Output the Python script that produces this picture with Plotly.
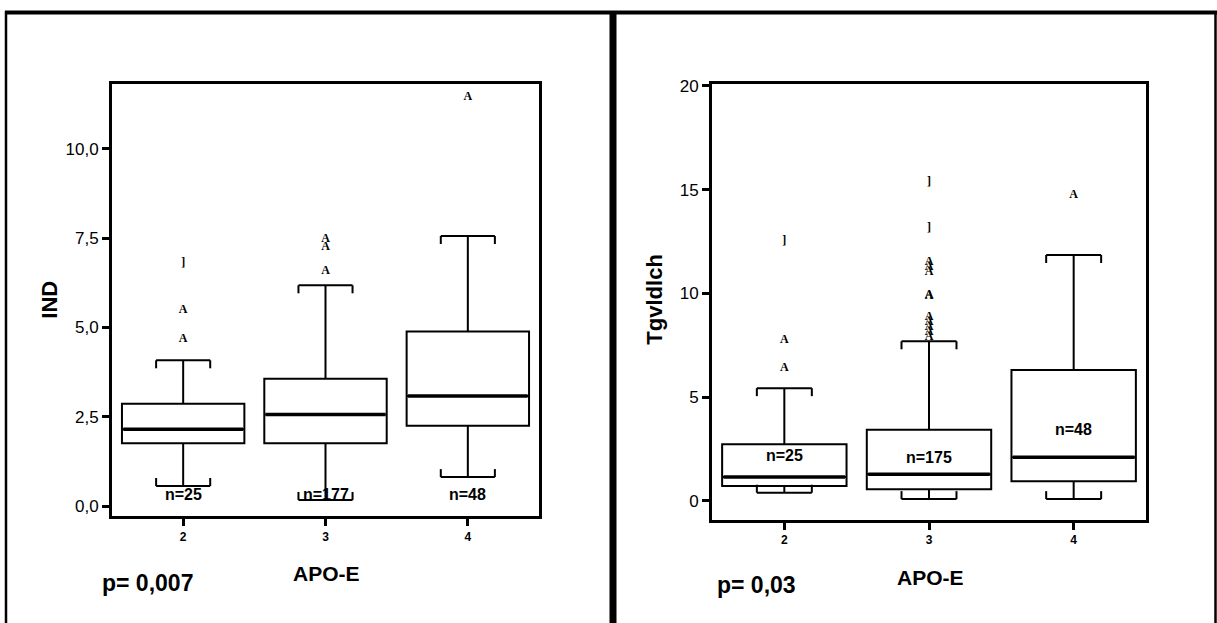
import plotly.graph_objects as go

W, H = 1217, 623

# ---------------- data ----------------
groups = [2, 3, 4]
group_labels = ["2", "3", "4"]

# Left panel: IND
ind_q1 = [1.76, 1.76, 2.25]
ind_median = [2.15, 2.56, 3.08]
ind_q3 = [2.86, 3.56, 4.89]
ind_low = [0.56, 0.17, 0.81]
ind_high = [4.08, 6.18, 7.56]
ind_n = ["n=25", "n=177", "n=48"]
ind_n_y = [0.33, 0.31, 0.32]
ind_out_x = [2, 2, 2, 3, 3, 3, 4]
ind_out_y = [6.80, 5.50, 4.69, 7.48, 7.26, 6.58, 11.44]
ind_out_sym = ["]", "A", "A", "A", "A", "A", "A"]
ind_ticks = [0, 2.5, 5, 7.5, 10]
ind_ticktext = ["0,0", "2,5", "5,0", "7,5", "10,0"]

# Right panel: Tgvldlch
tg_q1 = [0.71, 0.55, 0.94]
tg_median = [1.15, 1.28, 2.10]
tg_q3 = [2.72, 3.42, 6.30]
tg_low = [0.39, 0.08, 0.08]
tg_high = [5.43, 7.69, 11.85]
tg_n = ["n=25", "n=175", "n=48"]
tg_n_y = [2.19, 2.09, 3.44]
tg_out_x = [2, 2, 2, 3, 3, 3, 3, 3, 3, 3, 3, 3, 3, 3, 3, 4]
tg_out_y = [12.53, 7.73, 6.41, 15.39, 13.14, 11.53, 11.29, 11.05, 9.93, 9.85,
            8.88, 8.64, 8.40, 8.16, 7.92, 14.74]
tg_out_sym = ["]", "A", "A", "]", "]", "A", "A", "A", "A", "A",
              "A", "A", "A", "A", "A", "A"]
tg_ticks = [0, 5, 10, 15, 20]
tg_ticktext = ["0", "5", "10", "15", "20"]

# ---------------- layout geometry ----------------
def fx(px):
    return px / W

def fy(py):
    # small vertical calibration of the rendered page
    py = (py - 5.0) / 0.99
    return 1 - py / H

panels = [
    dict(xd=[fx(112), fx(539)], ytop=82, ybot=515, yr=[-0.29, 11.82]),
    dict(xd=[fx(712), fx(1146)], ytop=82, ybot=518.5, yr=[-0.92, 20.1]),
]

BOX_W = 0.86
HALF = BOX_W / 2
CAP_HALF = 0.19
FONT = "Liberation Sans, Arial, sans-serif"

fig = go.Figure()

datasets = [
    (ind_q1, ind_median, ind_q3, ind_low, ind_high, ind_n, ind_n_y,
     ind_out_x, ind_out_y, ind_out_sym),
    (tg_q1, tg_median, tg_q3, tg_low, tg_high, tg_n, tg_n_y,
     tg_out_x, tg_out_y, tg_out_sym),
]

annotations = []
for i, (q1, med, q3, lo, hi, nlab, ny, ox, oy, osym) in enumerate(datasets):
    xa = "x" if i == 0 else "x2"
    ya = "y" if i == 0 else "y2"
    p = panels[i]
    units_per_px = (p["yr"][1] - p["yr"][0]) / (p["ybot"] - p["ytop"])
    tick_d = 8 * units_per_px

    fig.add_trace(go.Box(
        x=groups, q1=q1, median=med, q3=q3, lowerfence=lo, upperfence=hi,
        width=BOX_W, whiskerwidth=2 * CAP_HALF / BOX_W,
        fillcolor="white", line=dict(color="black", width=2),
        boxpoints=False, hoverinfo="skip", xaxis=xa, yaxis=ya,
    ))
    # thicker median lines
    mx, my = [], []
    for g, m in zip(groups, med):
        mx += [g - HALF + 0.01, g + HALF - 0.01, None]
        my += [m, m, None]
    fig.add_trace(go.Scatter(x=mx, y=my, mode="lines",
                             line=dict(color="black", width=3.5),
                             hoverinfo="skip", xaxis=xa, yaxis=ya))
    # bracket ends on whisker caps
    cx, cy = [], []
    for g, l, h in zip(groups, lo, hi):
        for s in (-1, 1):
            cx += [g + s * CAP_HALF, g + s * CAP_HALF, None]
            cy += [h, h - tick_d, None]
            cx += [g + s * CAP_HALF, g + s * CAP_HALF, None]
            cy += [l, l + tick_d, None]
    fig.add_trace(go.Scatter(x=cx, y=cy, mode="lines",
                             line=dict(color="black", width=2),
                             hoverinfo="skip", xaxis=xa, yaxis=ya))
    # outliers
    fig.add_trace(go.Scatter(x=ox, y=oy, mode="text", text=["<b>%s</b>" % s for s in osym],
                             textfont=dict(family="Liberation Serif, serif",
                                           size=12, color="black"),
                             hoverinfo="skip", xaxis=xa, yaxis=ya))
    # n labels
    for g, t, yy in zip(groups, nlab, ny):
        annotations.append(dict(x=g, y=yy, xref=xa, yref=ya, text="<b>%s</b>" % t,
                                showarrow=False, xanchor="center", yanchor="middle",
                                font=dict(family=FONT, size=16, color="black")))

ax_common = dict(showline=True, linewidth=3, linecolor="black", mirror=True,
                 ticks="outside", ticklen=7, tickwidth=3, tickcolor="black",
                 showgrid=False, zeroline=False)

fig.update_layout(
    width=W, height=H, margin=dict(l=0, r=0, t=0, b=0),
    paper_bgcolor="white", plot_bgcolor="white", showlegend=False,
    xaxis=dict(domain=panels[0]["xd"], range=[1.5, 4.5], anchor="y",
               tickvals=groups, ticktext=["<b>%s</b>" % s for s in group_labels],
               tickfont=dict(family=FONT, size=12, color="black"), **ax_common),
    yaxis=dict(domain=[fy(panels[0]["ybot"]), fy(panels[0]["ytop"])],
               range=panels[0]["yr"], anchor="x",
               tickvals=ind_ticks, ticktext=ind_ticktext,
               tickfont=dict(family=FONT, size=17, color="black"), **ax_common),
    xaxis2=dict(domain=panels[1]["xd"], range=[1.5, 4.5], anchor="y2",
                tickvals=groups, ticktext=["<b>%s</b>" % s for s in group_labels],
                tickfont=dict(family=FONT, size=12, color="black"), **ax_common),
    yaxis2=dict(domain=[fy(panels[1]["ybot"]), fy(panels[1]["ytop"])],
                range=panels[1]["yr"], anchor="x2",
                tickvals=tg_ticks, ticktext=tg_ticktext,
                tickfont=dict(family=FONT, size=17, color="black"), **ax_common),
)

# axis titles and p-values
ytitle_font = dict(family=FONT, size=22, color="black")
xtitle_font = dict(family=FONT, size=21, color="black")
p_font = dict(family=FONT, size=23, color="black")
annotations += [
    dict(x=fx(50), y=fy(298), xref="paper", yref="paper", text="<b>IND</b>",
         textangle=-90, showarrow=False, xanchor="center", yanchor="middle", font=ytitle_font),
    dict(x=fx(655), y=fy(298), xref="paper", yref="paper", text="<b>Tgvldlch</b>",
         textangle=-90, showarrow=False, xanchor="center", yanchor="middle", font=ytitle_font),
    dict(x=fx(326), y=fy(572), xref="paper", yref="paper", text="<b>APO-E</b>",
         showarrow=False, xanchor="center", yanchor="middle", font=xtitle_font),
    dict(x=fx(930), y=fy(576), xref="paper", yref="paper", text="<b>APO-E</b>",
         showarrow=False, xanchor="center", yanchor="middle", font=xtitle_font),
    dict(x=fx(100), y=fy(582), xref="paper", yref="paper", text="<b>p= 0,007</b>",
         showarrow=False, xanchor="left", yanchor="middle", font=p_font),
    dict(x=fx(715), y=fy(584), xref="paper", yref="paper", text="<b>p= 0,03</b>",
         showarrow=False, xanchor="left", yanchor="middle", font=p_font),
]
fig.update_layout(annotations=annotations)

# panel frames
def vline(xp, w):
    return dict(type="line", xref="paper", yref="paper", x0=fx(xp), x1=fx(xp),
                y0=fy(9), y1=0, line=dict(color="black", width=w))

fig.update_layout(shapes=[
    dict(type="line", xref="paper", yref="paper", x0=fx(5), x1=fx(W),
         y0=fy(10.5), y1=fy(10.5), line=dict(color="black", width=4)),
    vline(6, 2.5),
    vline(613, 7),
    vline(1215.5, 2.5),
])

fig.write_html(
    "out.html",
    config={"displayModeBar": False},
    post_script=(
        "document.documentElement.style.overflow='hidden';"
        "document.body.style.margin='0';"
        "document.body.style.overflow='hidden';"
        "var d=document.getElementById('{plot_id}');"
        "d.style.position='fixed';d.style.left='0px';d.style.top='0px';"
    ),
)
